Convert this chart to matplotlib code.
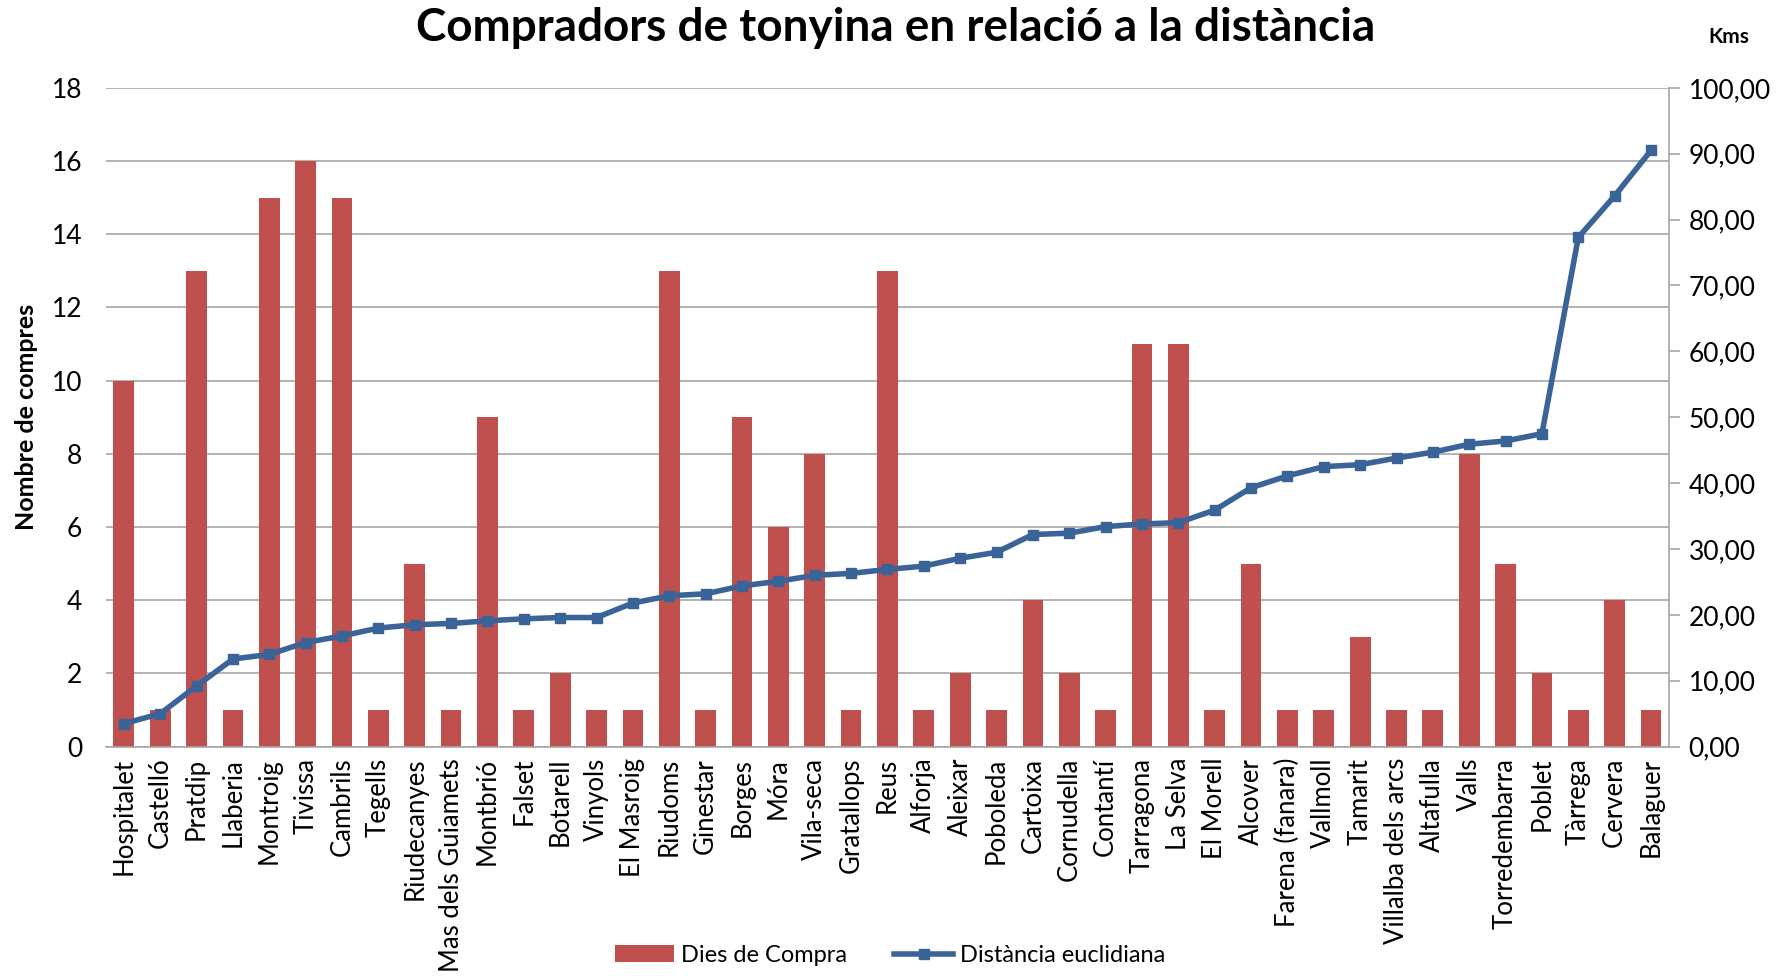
import matplotlib
matplotlib.use("Agg")
import matplotlib.pyplot as plt
import numpy as np
from matplotlib.ticker import FixedLocator, FuncFormatter

plt.rcParams['font.family'] = ['Lato', 'DejaVu Sans']

pobles = ["Hospitalet", "Castelló", "Pratdip", "Llaberia", "Montroig", "Tivissa",
          "Cambrils", "Tegells", "Riudecanyes", "Mas dels Guiamets", "Montbrió",
          "Falset", "Botarell", "Vinyols", "El Masroig", "Riudoms", "Ginestar",
          "Borges", "Móra", "Vila-seca", "Gratallops", "Reus", "Alforja", "Aleixar",
          "Poboleda", "Cartoixa", "Cornudella", "Contantí", "Tarragona", "La Selva",
          "El Morell", "Alcover", "Farena (fanara)", "Vallmoll", "Tamarit",
          "Villalba dels arcs", "Altafulla", "Valls", "Torredembarra", "Poblet",
          "Tàrrega", "Cervera", "Balaguer"]

dies_compra = [10, 1, 13, 1, 15, 16, 15, 1, 5, 1, 9, 1, 2, 1, 1, 13, 1, 9, 6, 8,
               1, 13, 1, 2, 1, 4, 2, 1, 11, 11, 1, 5, 1, 1, 3, 1, 1, 8, 5, 2, 1, 4, 1]

distancia = [3.5, 5.0, 9.2, 13.3, 14.0, 15.8, 16.8, 18.0, 18.5, 18.7, 19.1, 19.4,
             19.6, 19.6, 21.8, 22.9, 23.2, 24.4, 25.1, 26.0, 26.3, 26.9, 27.4, 28.6,
             29.5, 32.2, 32.4, 33.4, 33.8, 34.0, 35.9, 39.3, 41.1, 42.5, 42.8, 43.8,
             44.7, 45.9, 46.4, 47.5, 77.3, 83.6, 90.5]

vermell = '#C0504D'
blau = '#3A6498'
gris = '#A6A6A6'

fig = plt.figure(figsize=(17.91, 9.76), dpi=100)
ax = fig.add_axes([0.059, 0.235, 0.873, 0.675])
x = np.arange(len(pobles))

# barres: dies de compra (eix esquerre)
barres = ax.bar(x, dies_compra, width=0.57, color=vermell, zorder=2, label='Dies de Compra')
ax.set_xlim(-0.5, len(pobles) - 0.5)
ax.set_ylim(0, 18)
ax.yaxis.set_major_locator(FixedLocator(range(0, 19, 2)))
ax.grid(axis='y', color=gris, linewidth=1.2, zorder=0)
ax.set_axisbelow(True)
ax.set_xticks(x)
ax.set_xticklabels(pobles, rotation=90, fontsize=18.5)
ax.tick_params(axis='x', length=0, pad=8)
ax.tick_params(axis='y', length=0, labelsize=19, pad=17)
for s in ['top', 'left', 'right']:
    ax.spines[s].set_visible(False)
ax.spines['bottom'].set_color(gris)
ax.spines['bottom'].set_linewidth(1.2)
ax.set_ylabel('Nombre de compres', fontsize=18, fontweight='bold', labelpad=10)

# linia: distancia en km (eix dret)
ax2 = ax.twinx()
linia, = ax2.plot(x, distancia, color=blau, linewidth=4, marker='s', markersize=7,
                  zorder=3, label='Distància euclidiana')
ax2.set_ylim(0, 100)
ax2.yaxis.set_major_locator(FixedLocator(range(0, 101, 10)))
ax2.yaxis.set_major_formatter(FuncFormatter(lambda v, p: f"{v:.2f}".replace('.', ',')))
ax2.tick_params(axis='y', labelsize=19, length=8, color=gris, width=1.2, pad=6)
for s in ['top', 'left', 'bottom']:
    ax2.spines[s].set_visible(False)
ax2.spines['right'].set_color(gris)
ax2.spines['right'].set_linewidth(1.2)

fig.text(0.5, 0.971, 'Compradors de tonyina en relació a la distància',
         ha='center', va='center', fontsize=33, fontweight='bold')
fig.text(0.965, 0.962, 'Kms', ha='center', va='center', fontsize=15, fontweight='bold')

fig.legend(handles=[barres, linia], loc='center', bbox_to_anchor=(0.497, 0.021),
           ncol=2, frameon=False, fontsize=17, handlelength=2.5, columnspacing=2,
           handletextpad=0.3)

fig.savefig('out.png', dpi=100)
